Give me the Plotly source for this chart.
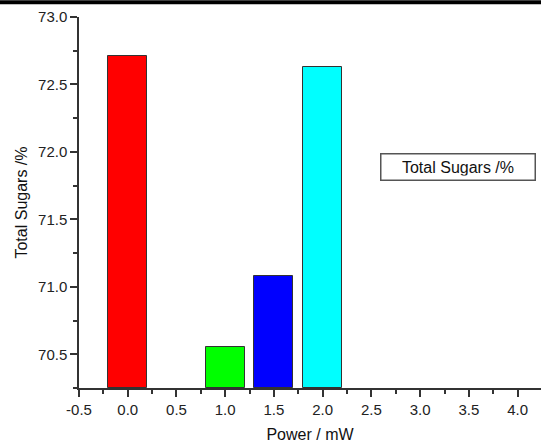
import plotly.graph_objects as go

power = [0.0, 1.0, 1.5, 2.0]
sugars = [72.71, 70.555, 71.08, 72.63]
colors = ["#ff0000", "#00ff00", "#0000ff", "#00ffff"]
x_ticks = [-0.5, 0.0, 0.5, 1.0, 1.5, 2.0, 2.5, 3.0, 3.5, 4.0]
y_ticks = [70.5, 71.0, 71.5, 72.0, 72.5, 73.0]
y_base = 70.25

fig = go.Figure()
fig.add_trace(go.Bar(
    x=power, y=[v - y_base for v in sugars], width=0.4, base=y_base,
    marker=dict(color=colors, line=dict(color="#333333", width=1)),
    showlegend=False,
))

axis_common = dict(
    showline=True, linecolor="#333333", linewidth=1.5,
    ticks="outside", ticklen=7, tickwidth=1.5, tickcolor="#333333",
    showgrid=False, zeroline=False, mirror=False,
    tickfont=dict(family="Liberation Sans, Arial", size=15, color="#222222"),
)

fig.update_layout(
    width=541, height=443,
    margin=dict(l=79, r=0, t=17, b=51),
    paper_bgcolor="white", plot_bgcolor="white",
    font=dict(family="Liberation Sans, Arial", color="#111111"),
    xaxis=dict(
        range=[-0.5, 4.24], tickvals=x_ticks,
        ticktext=[f"{v:.1f}" for v in x_ticks],
        minor=dict(dtick=0.25, tick0=0, ticks="outside", ticklen=4, tickwidth=1.5, tickcolor="#333333"),
        title=dict(text="Power / mW", font=dict(size=16), standoff=14),
        **axis_common,
    ),
    yaxis=dict(
        range=[70.25, 73.0], tickvals=y_ticks,
        ticktext=[f"{v:.1f}" for v in y_ticks],
        minor=dict(dtick=0.25, tick0=70.25, ticks="outside", ticklen=4, tickwidth=1.5, tickcolor="#333333"),
        title=dict(text="Total Sugars /%", font=dict(size=16), standoff=6),
        **axis_common,
    ),
    bargap=0,
    annotations=[dict(
        xref="paper", yref="paper", x=0.989, y=0.595, xanchor="right", yanchor="middle",
        text="Total Sugars /%", showarrow=False,
        font=dict(family="Liberation Sans, Arial", size=16, color="#111111"),
        bordercolor="#555555", borderwidth=1.5, borderpad=4, bgcolor="white",
        width=145, align="center",
    )],
    shapes=[dict(
        type="line", xref="paper", yref="paper",
        x0=-79/462, x1=1.0, y0=1 + 15/375, y1=1 + 15/375,
        line=dict(color="black", width=4),
    )],
)

fig.write_html("out.html")
